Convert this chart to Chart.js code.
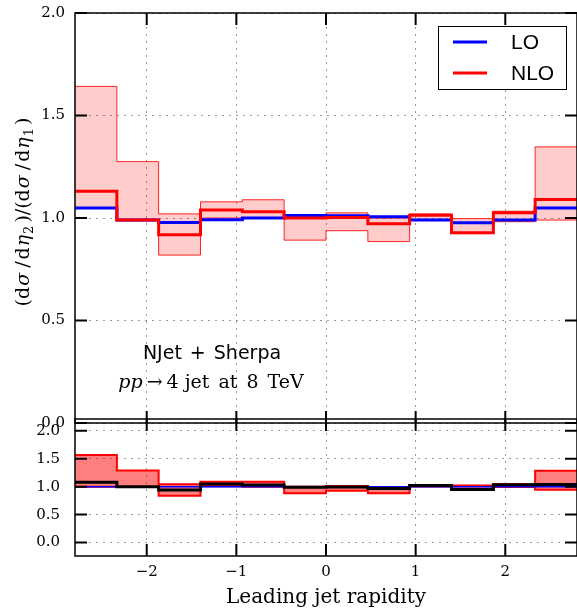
<!DOCTYPE html>
<html>
<head>
<meta charset="utf-8">
<script src="https://cdn.jsdelivr.net/npm/chart.js@4"></script>
<style>
  body { margin: 0; background: #fff; overflow: hidden; }
  #wrap { position: relative; width: 577px; height: 608px; overflow: hidden; }
  canvas { position: absolute; left: 0; }
</style>
</head>
<body>
<div id="wrap">
  <canvas id="mainChart" width="577" height="448" style="top:-6px"></canvas>
  <canvas id="ratioChart" width="577" height="213" style="top:395px"></canvas>
</div>
<script>
// bin edges of the leading jet rapidity
const edges = [-2.8, -2.333, -1.867, -1.4, -0.933, -0.467, 0, 0.467, 0.933, 1.4, 1.867, 2.333, 2.8];

// main panel: (dsigma/deta2)/(dsigma/deta1)
const lo    = [1.049, 0.990, 0.978, 0.992, 1.000, 1.012, 1.011, 1.006, 0.990, 0.977, 0.990, 1.049];
const nlo   = [1.131, 0.990, 0.918, 1.039, 1.030, 1.000, 1.003, 0.972, 1.013, 0.928, 1.026, 1.090];
const nloHi = [1.642, 1.275, 1.020, 1.079, 1.089, 1.013, 1.025, 1.000, 1.020, 0.997, 1.033, 1.347];
const nloLo = [1.049, 0.987, 0.819, 1.000, 1.000, 0.892, 0.938, 0.885, 0.993, 0.924, 0.982, 0.990];

// ratio panel (normalised to LO)
const ratioLo    = [1, 1, 1, 1, 1, 1, 1, 1, 1, 1, 1, 1];
const ratioNlo   = [1.078, 1.000, 0.940, 1.047, 1.030, 0.988, 0.992, 0.966, 1.023, 0.950, 1.036, 1.039];
const ratioHi    = [1.565, 1.288, 1.043, 1.088, 1.089, 1.000, 1.014, 0.994, 1.030, 1.020, 1.043, 1.284];
const ratioLoBnd = [1.000, 0.995, 0.837, 1.008, 1.000, 0.880, 0.928, 0.880, 1.003, 0.946, 0.992, 0.944];

const xTicks = [-2, -1, 0, 1, 2];
const mainYTicks = [0, 0.5, 1.0, 1.5, 2.0];
const ratioYTicks = [0, 0.5, 1.0, 1.5, 2.0];

const serif = "'DejaVu Serif', 'Liberation Serif', serif";
const sans = "'Liberation Sans', 'DejaVu Sans', sans-serif";

// turn a list of bin values into step points (last value repeated at the right edge)
function steps(vals) {
    return edges.map((e, i) => ({ x: e, y: vals[Math.min(i, vals.length - 1)] }));
}

function line(label, vals, color, width, extra) {
    return Object.assign({
        label: label,
        data: steps(vals),
        stepped: true,
        borderColor: color,
        borderWidth: width,
        pointRadius: 0,
        fill: false
    }, extra || {});
}

// draw a line of mixed-font text centred on (0,0) of the current transform
function richText(ctx, parts) {
    let total = 0;
    parts.forEach(p => { ctx.font = p.font; total += ctx.measureText(p.t).width + (p.gap || 0); });
    let x = -total / 2;
    ctx.textAlign = 'left';
    ctx.textBaseline = 'alphabetic';
    parts.forEach(p => {
        ctx.font = p.font;
        ctx.fillText(p.t, x, p.dy || 0);
        x += ctx.measureText(p.t).width + (p.gap || 0);
    });
}

// frame + inward tick marks
const framePlugin = {
    id: 'frame',
    afterDraw(chart, args, opts) {
        const ctx = chart.ctx;
        const a = chart.chartArea;
        const xs = chart.scales.x, ys = chart.scales.y;
        ctx.save();
        ctx.strokeStyle = '#000';
        ctx.lineWidth = 1.5;
        ctx.strokeRect(a.left, a.top, a.right - a.left, a.bottom - a.top);
        ctx.lineWidth = 2;
        ctx.beginPath();
        xTicks.forEach(v => {
            const px = xs.getPixelForValue(v);
            ctx.moveTo(px, a.top); ctx.lineTo(px, a.top + 12);
            ctx.moveTo(px, a.bottom); ctx.lineTo(px, a.bottom - 12);
        });
        opts.yTicks.forEach(v => {
            const py = ys.getPixelForValue(v);
            ctx.moveTo(a.left, py); ctx.lineTo(a.left + 12, py);
            ctx.moveTo(a.right, py); ctx.lineTo(a.right - 12, py);
        });
        ctx.stroke();
        ctx.restore();
    }
};

// legend, labels and axis title of the main panel (canvas sits 6px above the page top)
const mainTextPlugin = {
    id: 'mainText',
    afterDraw(chart) {
        const ctx = chart.ctx;
        ctx.save();
        ctx.translate(0, 6);
        // legend box
        ctx.fillStyle = '#fff';
        ctx.fillRect(438, 26, 129, 64);
        ctx.strokeStyle = '#000';
        ctx.lineWidth = 1;
        ctx.strokeRect(438.5, 26.5, 128, 63);
        ctx.lineWidth = 3;
        ctx.strokeStyle = '#0000ff';
        ctx.beginPath(); ctx.moveTo(453, 42); ctx.lineTo(487, 42); ctx.stroke();
        ctx.strokeStyle = '#ff0000';
        ctx.beginPath(); ctx.moveTo(453, 73); ctx.lineTo(487, 73); ctx.stroke();
        ctx.fillStyle = '#000';
        ctx.font = '21px ' + sans;
        ctx.textAlign = 'left';
        ctx.textBaseline = 'middle';
        ctx.fillText('LO', 511, 43);
        ctx.fillText('NLO', 511, 74);

        // process labels
        const ds = "19px 'DejaVu Sans', sans-serif";
        ctx.save();
        ctx.translate(212, 359);
        richText(ctx, [
            { t: 'NJet', font: ds, gap: 8 }, { t: '+', font: ds, gap: 8 }, { t: 'Sherpa', font: ds }
        ]);
        ctx.restore();
        ctx.save();
        ctx.translate(211, 388);
        const s = '19px ' + serif;
        richText(ctx, [
            { t: 'pp', font: 'italic 19px ' + serif, gap: 4 },
            { t: '\u2192', font: s, gap: 4 },
            { t: '4', font: s, gap: 6 }, { t: 'jet', font: s, gap: 9 },
            { t: 'at', font: s, gap: 9 }, { t: '8', font: s, gap: 9 }, { t: 'TeV', font: s }
        ]);
        ctx.restore();

        // y axis title
        ctx.translate(29, 212);
        ctx.rotate(-Math.PI / 2);
        const f = '19px ' + serif, fi = 'italic 19px ' + serif, fs = '13px ' + serif;
        richText(ctx, [
            { t: '(d', font: f, gap: 1 }, { t: '\u03c3', font: fi, gap: 5 }, { t: '/', font: f, gap: 2 },
            { t: 'd', font: f, gap: 1 }, { t: '\u03b7', font: fi, gap: 1 }, { t: '2', font: fs, dy: 4, gap: 3 },
            { t: ')/(d', font: f, gap: 1 }, { t: '\u03c3', font: fi, gap: 5 }, { t: '/', font: f, gap: 2 },
            { t: 'd', font: f, gap: 1 }, { t: '\u03b7', font: fi, gap: 1 }, { t: '1', font: fs, dy: 4, gap: 3 },
            { t: ')', font: f }
        ]);
        ctx.restore();
    }
};

const ratioTextPlugin = {
    id: 'ratioText',
    afterDraw(chart) {
        const ctx = chart.ctx;
        ctx.save();
        ctx.fillStyle = '#000';
        ctx.font = '20px ' + serif;
        ctx.textAlign = 'center';
        ctx.textBaseline = 'alphabetic';
        ctx.fillText('Leading jet rapidity', (chart.chartArea.left + chart.chartArea.right) / 2, 208);
        ctx.restore();
    }
};

function xScale(showLabels, height) {
    return {
        type: 'linear', min: -2.8, max: 2.8,
        afterFit(s) { s.height = height; },
        ticks: {
            display: showLabels, stepSize: 1, includeBounds: false, padding: 7,
            color: '#000', font: { family: serif, size: 15 },
            callback: v => (v < 0 ? '\u2212' + Math.abs(v) : String(v))
        },
        grid: { color: '#999', lineWidth: 1, drawTicks: false },
        border: { display: false, dash: [2, 5] }
    };
}

function yScale(min, max, pad) {
    return {
        type: 'linear', min: min, max: max,
        afterFit(s) { s.width = 75; },
        ticks: {
            stepSize: 0.5, includeBounds: false, padding: pad,
            color: '#000', font: { family: serif, size: 15 },
            callback: v => v.toFixed(1)
        },
        grid: { color: '#999', lineWidth: 1, drawTicks: false },
        border: { display: false, dash: [2, 5] }
    };
}

const common = {
    responsive: false,
    animation: false,
    plugins: { legend: { display: false }, tooltip: { enabled: false } }
};

window.onload = function() {
    new Chart(document.getElementById('mainChart').getContext('2d'), {
        type: 'line',
        data: {
            datasets: [
                line('NLO', nlo, '#ff0000', 3),
                line('LO', lo, '#0000ff', 3),
                line('NLO band up', nloHi, 'rgba(255,0,0,0.85)', 1, { fill: '+1', backgroundColor: 'rgba(255,0,0,0.2)' }),
                line('NLO band down', nloLo, 'rgba(255,0,0,0.85)', 1)
            ]
        },
        options: Object.assign({}, common, {
            layout: { padding: { top: 14, right: 0, bottom: 0, left: 0 } },
            scales: { x: xScale(false, 10), y: yScale(0, 2, 10) },
            plugins: Object.assign({}, common.plugins, { frame: { yTicks: mainYTicks } })
        }),
        plugins: [framePlugin, mainTextPlugin]
    });

    new Chart(document.getElementById('ratioChart').getContext('2d'), {
        type: 'line',
        data: {
            datasets: [
                line('NLO/LO', ratioNlo, '#000000', 3),
                line('LO/LO', ratioLo, '#0000ff', 1.5),
                line('band up', ratioHi, '#ff0000', 2, { fill: '+1', backgroundColor: 'rgba(255,0,0,0.5)' }),
                line('band down', ratioLoBnd, '#ff0000', 2)
            ]
        },
        options: Object.assign({}, common, {
            layout: { padding: { top: 10, right: 0, bottom: 0, left: 0 } },
            scales: { x: xScale(true, 52), y: yScale(-0.24, 2.21, 15) },
            plugins: Object.assign({}, common.plugins, { frame: { yTicks: ratioYTicks } })
        }),
        plugins: [framePlugin, ratioTextPlugin]
    });
};
</script>
</body>
</html>
